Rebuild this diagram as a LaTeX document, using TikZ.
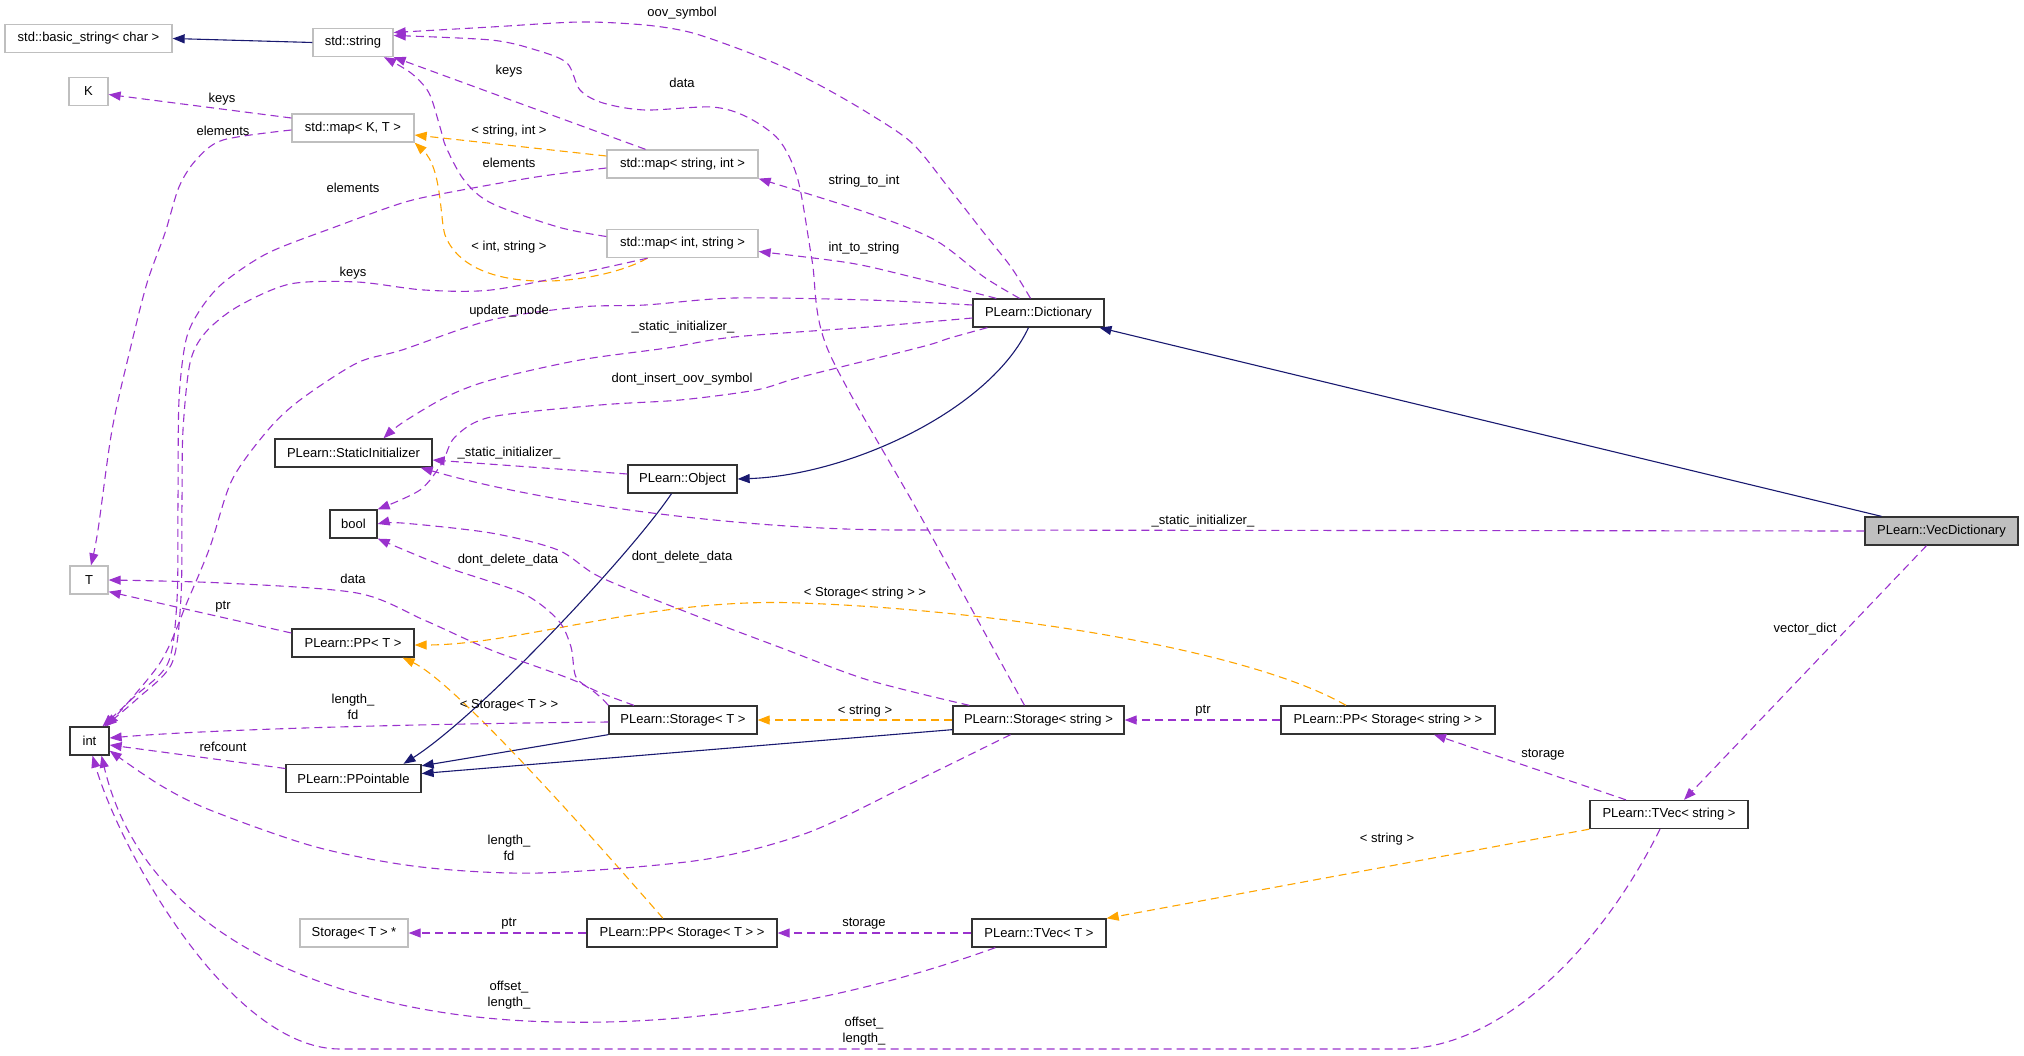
\documentclass[tikz,border=0pt]{standalone}
\usepackage{fontspec}
\setmainfont{Liberation Sans}
\usetikzlibrary{arrows.meta}
\definecolor{inherit-color}{HTML}{191970}
\definecolor{usage-color}{HTML}{9A32CD}
\definecolor{templ-color}{HTML}{FFA500}
\definecolor{undoc-color}{HTML}{BFBFBF}
\definecolor{top-node-color}{HTML}{BFBFBF}

\begin{document}
\begin{tikzpicture}[x=1pt, y=-1pt,
cls/.style={rectangle, draw=black!80, line width=1.3pt, minimum height=28pt, inner sep=0pt},
undoc/.style={cls, draw=undoc-color},
inherit/.style={draw=inherit-color, line width=1.1pt, -{Triangle[length=12pt,width=9pt]}},
usage/.style={draw=usage-color, line width=1.1pt, dash pattern=on 8pt off 5pt, -{Triangle[length=12pt,width=9pt]}},
templ/.style={usage, draw=templ-color},
lbl/.style={inner sep=0pt, align=center}]
\tikzstyle{every node}=[font=\fontsize{13}{16}\selectfont]

\useasboundingbox (0,0) rectangle (2024,1055);

\node[undoc, minimum width=167pt] (BasicString) at (88.5,38.5) {std::basic\_string< char >};
\node[undoc, minimum width=80pt] (StdString) at (353,42.5) {std::string};
\node[undoc, minimum width=39pt] (K) at (88.5,91.5) {K};
\node[undoc, minimum width=122pt] (MapKT) at (353,128) {std::map< K, T >};
\node[undoc, minimum width=151pt] (MapStringInt) at (682.5,164) {std::map< string, int >};
\node[undoc, minimum width=151pt] (MapIntString) at (682.5,243.5) {std::map< int, string >};
\node[cls, minimum width=131pt] (Dictionary) at (1038.5,313) {PLearn::Dictionary};
\node[cls, minimum width=157pt] (StaticInit) at (353.5,453) {PLearn::StaticInitializer};
\node[cls, minimum width=109pt] (Object) at (682.5,479) {PLearn::Object};
\node[cls, fill=top-node-color, minimum width=153pt] (VecDictionary) at (1941.5,531) {PLearn::VecDictionary};
\node[cls, minimum width=47pt] (Bool) at (353.5,524) {bool};
\node[undoc, minimum width=38pt] (T) at (89,580) {T};
\node[cls, minimum width=122pt] (PPT) at (353,643) {PLearn::PP< T >};
\node[cls, minimum width=148pt] (StorageT) at (683,720) {PLearn::Storage< T >};
\node[cls, minimum width=171pt] (StorageString) at (1038.5,720) {PLearn::Storage< string >};
\node[cls, minimum width=214pt] (PPStorageString) at (1388,720) {PLearn::PP< Storage< string > >};
\node[cls, minimum width=39pt] (Int) at (89.5,741) {int};
\node[cls, minimum width=135pt] (PPointable) at (353.5,778.5) {PLearn::PPointable};
\node[cls, minimum width=158pt] (TVecString) at (1669,814.5) {PLearn::TVec< string >};
\node[undoc, minimum width=108pt] (StorageTPtr) at (354,933) {Storage< T > *};
\node[cls, minimum width=190pt] (PPStorageT) at (682,933) {PLearn::PP< Storage< T > >};
\node[cls, minimum width=134pt] (TVecT) at (1039,933) {PLearn::TVec< T >};
%
\draw[inherit] (StdString.west) -- (BasicString.east);
\draw[inherit] ([xshift=-60pt]VecDictionary.north) -- ([xshift=61pt]Dictionary.south);
\draw[inherit] ([xshift=-10pt]Dictionary.south) .. controls (990,410) and (850,475) .. (Object.east);
\draw[inherit] ([xshift=-11pt]Object.south) .. controls (630,555) and (480,715) .. ([xshift=50pt]PPointable.north);
\draw[inherit] (StorageT.south west) -- ([yshift=-2pt]PPointable.north east);
\draw[inherit] ([yshift=5pt]StorageString.south west) -- ([yshift=5pt]PPointable.east);
%
\draw[templ] ([yshift=8pt]MapStringInt.west) -- ([yshift=-7pt]MapKT.east);
\draw[templ] ([xshift=-35pt]MapIntString.south) .. controls (600,285) and (470,300) .. (445,235) .. controls (440,220) and (442,168) .. (MapKT.south east);
\draw[templ] ([xshift=-42pt]PPStorageString.north) .. controls (1250,650) and (1000,610) .. (800,603) .. controls (650,597) and (520,645) .. ([yshift=-2pt]PPT.east);
\draw[templ] ([xshift=-19pt]PPStorageT.north) .. controls (560,800) and (450,680) .. ([xshift=-12pt]PPT.south east);
\draw[templ] (StorageString.west) -- (StorageT.east);
\draw[templ] (TVecString.south west) -- (TVecT.north east);
%
\draw[usage] plot[smooth] coordinates {([xshift=-8pt]Dictionary.north) (1011,267) (984,233) (948,187) (912,143) (868,113) (823,87) (779,65) (734,47) (689,32) (645,25) (580,22) (491,27) ([yshift=10pt]StdString.east)};
\draw[usage] plot[smooth] coordinates {([xshift=-14pt]StorageString.north) (921,517) (828,350) (812,260) (798,180) (779,140) (747,117) (712,107) (645,110) (603,103) (580,90) (567,63) (536,50) (491,40) ([yshift=7pt]StdString.east)};
\draw[usage] ([xshift=-37pt]MapStringInt.north) -- (StdString.south east);
\draw[usage] plot[smooth] coordinates {([yshift=7pt]MapIntString.west) (558,227) (491,203) (464,180) (446,147) (440,127) (429,93) (411,73) ([xshift=31pt]StdString.south)};
\draw[usage] ([yshift=10pt]MapKT.west) -- ([yshift=-3pt]K.east);
\draw[usage] plot[smooth] coordinates {([yshift=-2pt]MapKT.west) (223,140) (196,160) (179,187) (165,233) (147,283) (130,350) (112,430) (98,530) ([xshift=2pt]T.north)};
\draw[usage] plot[smooth] coordinates {([yshift=-4pt]MapStringInt.west) (536,177) (446,193) (402,203) (335,227) (268,253) (223,283) (200,310) (186,340) (179,400) (178,500) (177,600) (168,663) (134,697) ([xshift=13pt]Int.north)};
\draw[usage] plot[smooth] coordinates {([xshift=-35pt]MapIntString.south) (580,273) (491,290) (424,290) (357,282) (290,284) (237,307) (205,333) (190,363) (183,430) (182,500) (181,597) (172,663) (137,699) ([xshift=15pt]Int.north)};
\draw[usage] plot[smooth] coordinates {([yshift=8pt]Dictionary.west) (868,300) (734,298) (645,305) (580,307) (491,320) (402,350) (357,363) (300,400) (268,430) (232,480) (210,547) (188,600) (160,663) ([xshift=17pt]Int.north)};
\draw[usage] plot[smooth] coordinates {([yshift=-5pt]Dictionary.west) (868,327) (734,337) (667,348) (580,360) (491,380) (446,397) (402,423) ([xshift=30pt]StaticInit.north)};
\draw[usage] plot[smooth] coordinates {([xshift=15pt]Dictionary.south west) (950,338) (921,347) (801,377) (756,390) (680,400) (600,405) (491,417) (455,437) (442,463) (420,490) (Bool.north east)};
\draw[usage] plot[smooth] coordinates {([xshift=-19pt]Dictionary.north) (984,277) (935,240) (868,213) (MapStringInt.south east)};
\draw[usage] plot[smooth] coordinates {([xshift=24pt]Dictionary.north west) (912,277) (850,263) ([yshift=-8pt]MapIntString.east)};
\draw[usage] ([yshift=5pt]Object.west) -- ([yshift=-7pt]StaticInit.east);
\draw[usage] (VecDictionary.west) -- (900,530) .. controls (750,530) and (550,505) .. ([xshift=-12pt]StaticInit.south east);
\draw[usage] plot[smooth] coordinates {([xshift=17pt]StorageString.north west) (868,680) (779,647) (689,613) (600,577) (558,550) (491,533) (402,523) (Bool.east)};
\draw[usage] plot[smooth] coordinates {([xshift=-49pt]StorageT.north) (594,690) (576,677) (571,647) (558,620) (522,593) (446,567) (Bool.south east)};
\draw[usage] plot[smooth] coordinates {(StorageT.north west) (580,683) (491,650) (424,620) (357,593) (223,583) (T.east)};
\draw[usage] ([yshift=10pt]PPT.west) -- ([yshift=3pt]T.south east);
\draw[usage] ([yshift=-2pt]StorageT.west) .. controls (400,724) and (200,730) .. ([yshift=3pt]Int.east);
\draw[usage] ([yshift=10pt]PPointable.west) -- ([yshift=-4pt]Int.east);
\draw[usage] plot[smooth] coordinates {([xshift=-28pt]StorageString.south) (912,783) (807,833) (701,860) (540,873) (421,867) (316,847) (210,810) (160,785) ([yshift=5pt]Int.south east)};
\draw[usage] (PPStorageString.west) -- (StorageString.east);
\draw[usage] ([xshift=-43pt]TVecString.north) -- ([xshift=46pt]PPStorageString.south);
\draw[usage] ([xshift=-15pt]VecDictionary.south) -- ([xshift=15pt]TVecString.north);
\draw[usage] (TVecT.west) -- (PPStorageT.east);
\draw[usage] (PPStorageT.west) -- (StorageTPtr.east);
\draw[usage] ([xshift=24pt]TVecT.south west) .. controls (850,1000) and (700,1025) .. (560,1022) .. controls (380,1020) and (150,960) .. ([xshift=12pt]Int.south);
\draw[usage] ([xshift=-9pt]TVecString.south) .. controls (1600,950) and (1500,1049) .. (1400,1049) -- (340,1049) .. controls (230,1049) and (120,850) .. ([xshift=3pt]Int.south);
%
\node[lbl] (lOov) at (682,13) {oov\_symbol};
\node[lbl] (lData) at (682,83) {data};
\node[lbl] (lKeysStr) at (509,71) {keys};
\node[lbl] (lKeysK) at (222,99) {keys};
\node[lbl] (lElemT) at (223,131) {elements};
\node[lbl] (lStrInt) at (509,131) {< string, int >};
\node[lbl] (lElemStr) at (509,163) {elements};
\node[lbl] (lElemInt) at (353,188) {elements};
\node[lbl] (lIntStr) at (509,247) {< int, string >};
\node[lbl] (lKeysInt) at (353,273) {keys};
\node[lbl] (lUpdate) at (509,311) {update\_mode};
\node[lbl] (lStrToInt) at (864,181) {string\_to\_int};
\node[lbl] (lIntToStr) at (864,248) {int\_to\_string};
\node[lbl] (lStatDict) at (683,327) {\_static\_initializer\_};
\node[lbl] (lInsert) at (682,379) {dont\_insert\_oov\_symbol};
\node[lbl] (lStatObj) at (509,453) {\_static\_initializer\_};
\node[lbl] (lStatVec) at (1203,521) {\_static\_initializer\_};
\node[lbl] (lDelT) at (508,560) {dont\_delete\_data};
\node[lbl] (lDelStr) at (682,557) {dont\_delete\_data};
\node[lbl] (lDataT) at (353,579) {data};
\node[lbl] (lPtrT) at (223,607) {ptr};
\node[lbl] (lPPStr) at (865,593) {< Storage< string > >};
\node[lbl] (lPPT) at (509,705) {< Storage< T > >};
\node[lbl] (lLenT) at (353,707) {length\_\\fd};
\node[lbl] (lStorStr) at (865,711) {< string >};
\node[lbl] (lPtrStr) at (1203,711) {ptr};
\node[lbl] (lVecDict) at (1805,629) {vector\_dict};
\node[lbl] (lStorVec) at (1543,755) {storage};
\node[lbl] (lRef) at (223,747) {refcount};
\node[lbl] (lLenStr) at (509,848) {length\_\\fd};
\node[lbl] (lTVecStr) at (1387,839) {< string >};
\node[lbl] (lPtrPP) at (509,924) {ptr};
\node[lbl] (lStorT) at (864,924) {storage};
\node[lbl] (lOffT) at (509,995) {offset\_\\length\_};
\node[lbl] (lOffStr) at (864,1031) {offset\_\\length\_};

\end{tikzpicture}
\end{document}
